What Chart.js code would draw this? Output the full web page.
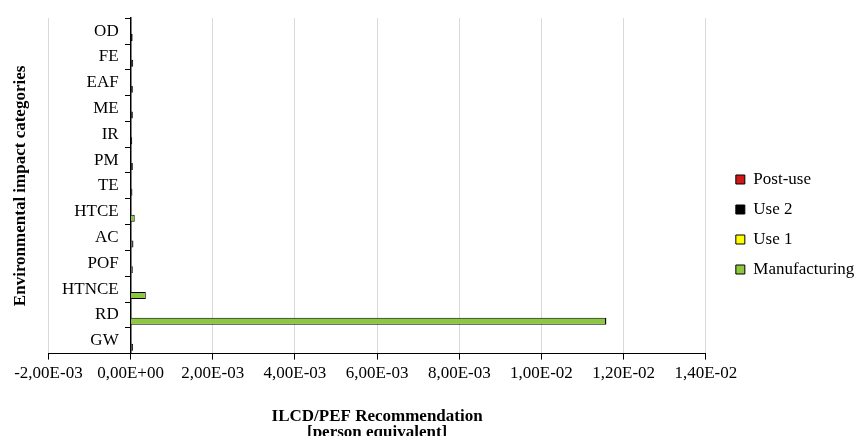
<!DOCTYPE html>
<html>
<head>
<meta charset="utf-8">
<script src="https://cdn.jsdelivr.net/npm/chart.js@4/dist/chart.umd.min.js"></script>
<style>
  html, body { margin: 0; padding: 0; background: #fff; overflow: hidden; }
  #wrap { width: 861px; height: 441px; }
</style>
</head>
<body>
<div id="wrap"><canvas id="chart"></canvas></div>
<script>
// impact categories, top to bottom as drawn
const categories = ['OD', 'FE', 'EAF', 'ME', 'IR', 'PM', 'TE', 'HTCE', 'AC', 'POF', 'HTNCE', 'RD', 'GW'];

// person equivalent per life-cycle phase
const manufacturing = [1.0e-5, 1.5e-5, 1.5e-5, 1.5e-5, 1.0e-5, 1.5e-5, 1.5e-5, 1.0e-4, 3.0e-5, 2.5e-5, 3.7e-4, 1.157e-2, 2.0e-5];
const use1 = [0, 0, 0, 0, 0, 0, 0, 0, 0, 0, 0, 0, 0];
const use2 = [4.0e-5, 5.0e-5, 4.0e-5, 4.0e-5, 3.0e-5, 4.0e-5, 3.0e-5, 1.0e-5, 4.0e-5, 3.0e-5, 1.0e-5, 1.0e-5, 4.0e-5];
const postUse = [0, 0, 0, 0, 0, 0, 0, 0, 0, 0, 0, 0, 0];

// x axis range
const xMin = -0.002;
const xMax = 0.014;
const xStep = 0.002;

Chart.defaults.font.family = "'Liberation Serif', 'Times New Roman', serif";
Chart.defaults.font.size = 17;
Chart.defaults.color = '#000';

// "1,20E-02" style labels
function sciLabel(v) {
    const parts = Number(v).toExponential(2).split('e');
    const mant = parts[0].replace('.', ',');
    let exp = parseInt(parts[1], 10);
    const sign = exp < 0 ? '-' : '+';
    exp = Math.abs(exp);
    return mant + 'E' + sign + String(exp).padStart(2, '0');
}

// nudge the legend a little to the right and up, like the original
const legendShift = {
    id: 'legendShift',
    afterLayout(chart) {
        if (chart.legend) {
            chart.legend.left += 17;
            chart.legend.right += 17;
            chart.legend.top -= 3;
            chart.legend.bottom -= 3;
        }
    }
};

const ctx = document.getElementById('chart').getContext('2d');
new Chart(ctx, {
    type: 'bar',
    data: {
        labels: categories,
        datasets: [
            // empty spacer stack so the real bars sit in the lower half of each row
            { label: '', data: [], stack: 'pad', backgroundColor: 'rgba(0,0,0,0)', borderWidth: 0 },
            { label: 'Manufacturing', data: manufacturing, stack: 'main', backgroundColor: '#8dc63f', borderColor: '#000', borderWidth: 1 },
            { label: 'Use 1', data: use1, stack: 'main', backgroundColor: '#ffff00', borderColor: '#000', borderWidth: 1 },
            { label: 'Use 2', data: use2, stack: 'main', backgroundColor: '#000000', borderColor: '#000', borderWidth: 1 },
            { label: 'Post-use', data: postUse, stack: 'main', backgroundColor: '#d01818', borderColor: '#000', borderWidth: 1 },
        ],
    },
    options: {
        indexAxis: 'y',
        responsive: true,
        maintainAspectRatio: false,
        animation: false,
        categoryPercentage: 1.0,
        barPercentage: 0.54,
        layout: {
            padding: { top: 14, right: 14, bottom: 0, left: 0 },
        },
        scales: {
            x: {
                stacked: true,
                min: xMin,
                max: xMax,
                grid: {
                    color: '#d9d9d9',
                    lineWidth: 1,
                    tickColor: '#000',
                    tickLength: 6,
                },
                border: { color: '#000', width: 1 },
                ticks: {
                    stepSize: xStep,
                    padding: 4,
                    callback: (v) => sciLabel(v),
                },
                title: {
                    display: true,
                    text: ['ILCD/PEF Recommendation', '[person equivalent]'],
                    font: { size: 17, weight: 'bold', lineHeight: '16px' },
                    padding: { top: 21, bottom: 0 },
                },
            },
            y: {
                stacked: true,
                position: { x: 0 },
                grid: {
                    offset: true,
                    drawOnChartArea: false,
                    drawTicks: true,
                    tickLength: 5,
                    tickColor: '#000',
                },
                border: { color: '#000', width: 1.5 },
                ticks: {
                    padding: 8,
                    // labels sit right on the crossing axis, keep a small gap
                    callback: (v, i) => categories[i] + '\u2002\u2009',
                },
            },
        },
        plugins: {
            title: {
                display: true,
                text: 'Environmental impact categories',
                position: 'left',
                fullSize: false,
                font: { size: 17, weight: 'bold' },
                padding: { top: 10, bottom: 18 },
            },
            legend: {
                position: 'right',
                reverse: true,
                labels: {
                    boxWidth: 9,
                    boxHeight: 9,
                    padding: 13,
                    font: { size: 17 },
                    filter: (item) => item.text !== '',
                },
            },
            tooltip: { enabled: false },
        },
    },
    plugins: [legendShift],
});
</script>
</body>
</html>
